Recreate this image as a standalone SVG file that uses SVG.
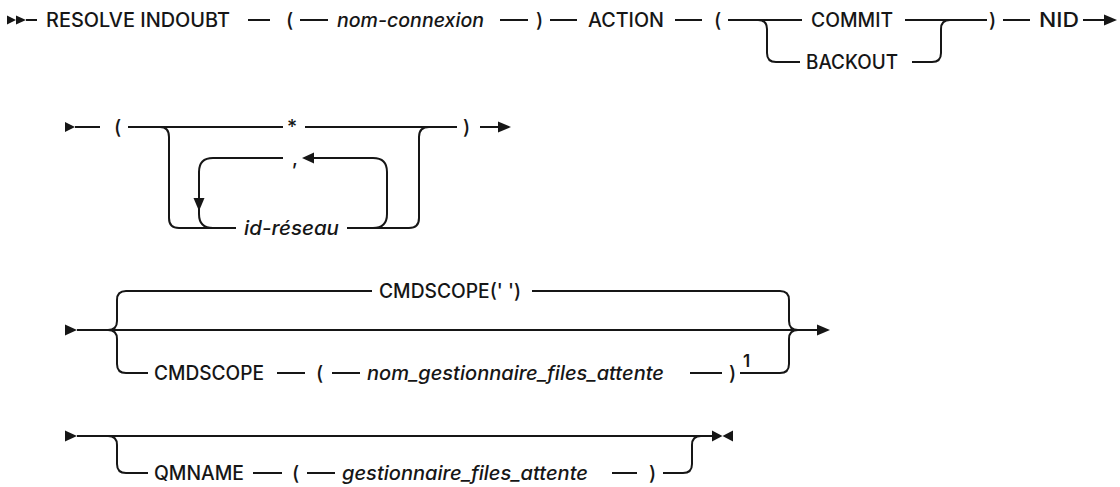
<svg xmlns="http://www.w3.org/2000/svg" width="1120" height="487" viewBox="0 0 1120 487">
<style>
.t{font-family:Inter,"Liberation Sans",Arial,sans-serif;font-size:19.5px;font-weight:500;fill:#161616}
.i{font-style:italic}
.l{fill:none;stroke:#161616;stroke-width:2}
.a{fill:#161616;stroke:none}
</style>
<rect width="1120" height="487" fill="#fff"/>
<g id="connectors">
<path class="l" d="M26 20H37M248 20H270M300 20H328M500 20H528M550 20H577M675 20H702M728 20H802M758 20Q767 20 767 29V53Q767 62 776 62H800M905 20H987M912 62H932Q941 62 941 53V29Q941 20 950 20M1003 20H1030M1083 20H1104"/>
<polygon class="a" points="7,15.5 16,20 7,24.5"/>
<polygon class="a" points="16,15.5 26,20 16,24.5"/>
<polygon class="a" points="1104,14.5 1117,20 1104,25.5"/>
<path class="l" d="M75 127H100M128 127H283M305 127H457M160 127Q169 127 169 137V218Q169 228 179 228H236M347 228H409Q419 228 419 218V137Q419 127 429 127M283 158H213Q199 158 199 172V214Q199 228 213 228M313 158H373Q387 158 387 172V214Q387 228 373 228M480 127H498"/>
<polygon class="a" points="65,122 75,127 65,132"/>
<polygon class="a" points="302,158 314,152.5 314,163.5"/>
<polygon class="a" points="193.5,198 204.5,198 199,211"/>
<polygon class="a" points="498,121.5 511,127 498,132.5"/>
<path class="l" d="M77 330H817M108 330Q117 330 117 321V300Q117 291 126 291H372M108 330Q117 330 117 339V364Q117 373 126 373H148M532 291H780Q789 291 789 300V321Q789 330 798 330M740 373H780Q789 373 789 364V339Q789 330 798 330M277 373H305M332 373H360M690 373H722"/>
<polygon class="a" points="65,324.5 77,330 65,335.5"/>
<polygon class="a" points="817,324.5 830,330 817,335.5"/>
<path class="l" d="M77 436H712M108 436Q117 436 117 445V464Q117 473 126 473H148M253 473H282M307 473H335M612 473H637M663 473H683Q692 473 692 464V445Q692 436 701 436"/>
<polygon class="a" points="65,430.5 77,436 65,441.5"/>
<polygon class="a" points="712,430.5 722.5,436 712,441.5"/>
<polygon class="a" points="733,430.5 722.5,436 733,441.5"/>
</g>
<g id="n-resolve"><text class="t" x="46" y="27" textLength="184" lengthAdjust="spacingAndGlyphs">RESOLVE INDOUBT</text></g>
<g id="n-lp1"><text class="t" x="286" y="27">(</text></g>
<g id="n-nomconnexion"><text class="t i" x="337" y="27" textLength="147" lengthAdjust="spacingAndGlyphs">nom-connexion</text></g>
<g id="n-rp1"><text class="t" x="536" y="27">)</text></g>
<g id="n-action"><text class="t" x="588" y="27" textLength="76" lengthAdjust="spacingAndGlyphs">ACTION</text></g>
<g id="n-lp2"><text class="t" x="714" y="27">(</text></g>
<g id="n-commit"><text class="t" x="811" y="27" textLength="82" lengthAdjust="spacingAndGlyphs">COMMIT</text></g>
<g id="n-backout"><text class="t" x="806" y="69" textLength="92" lengthAdjust="spacingAndGlyphs">BACKOUT</text></g>
<g id="n-rp2"><text class="t" x="989" y="27">)</text></g>
<g id="n-nid"><text class="t" x="1039" y="27" textLength="40" lengthAdjust="spacingAndGlyphs">NID</text></g>
<g id="n-lp3"><text class="t" x="114" y="134">(</text></g>
<g id="n-star"><text class="t" x="287" y="134">*</text></g>
<g id="n-comma"><text class="t" x="292" y="165">,</text></g>
<g id="n-idreseau"><text class="t i" x="244" y="235" textLength="95" lengthAdjust="spacingAndGlyphs">id-réseau</text></g>
<g id="n-rp3"><text class="t" x="463" y="134">)</text></g>
<g id="n-cmdscope-default"><text class="t" x="379" y="298" textLength="142" lengthAdjust="spacingAndGlyphs">CMDSCOPE(' ')</text></g>
<g id="n-cmdscope"><text class="t" x="154" y="380" textLength="110" lengthAdjust="spacingAndGlyphs">CMDSCOPE</text></g>
<g id="n-lp4"><text class="t" x="316" y="380">(</text></g>
<g id="n-nomgest"><text class="t i" x="367" y="380" textLength="297" lengthAdjust="spacingAndGlyphs">nom_gestionnaire_files_attente</text></g>
<g id="n-rp4"><text class="t" x="729" y="380">)</text></g>
<g id="n-note1"><text class="t" x="743" y="367" style="font-size:17px;font-weight:600">1</text></g>
<g id="n-qmname"><text class="t" x="154" y="480" textLength="90" lengthAdjust="spacingAndGlyphs">QMNAME</text></g>
<g id="n-lp5"><text class="t" x="292" y="480">(</text></g>
<g id="n-gest"><text class="t i" x="342" y="480" textLength="246" lengthAdjust="spacingAndGlyphs">gestionnaire_files_attente</text></g>
<g id="n-rp5"><text class="t" x="649" y="480">)</text></g>
</svg>
